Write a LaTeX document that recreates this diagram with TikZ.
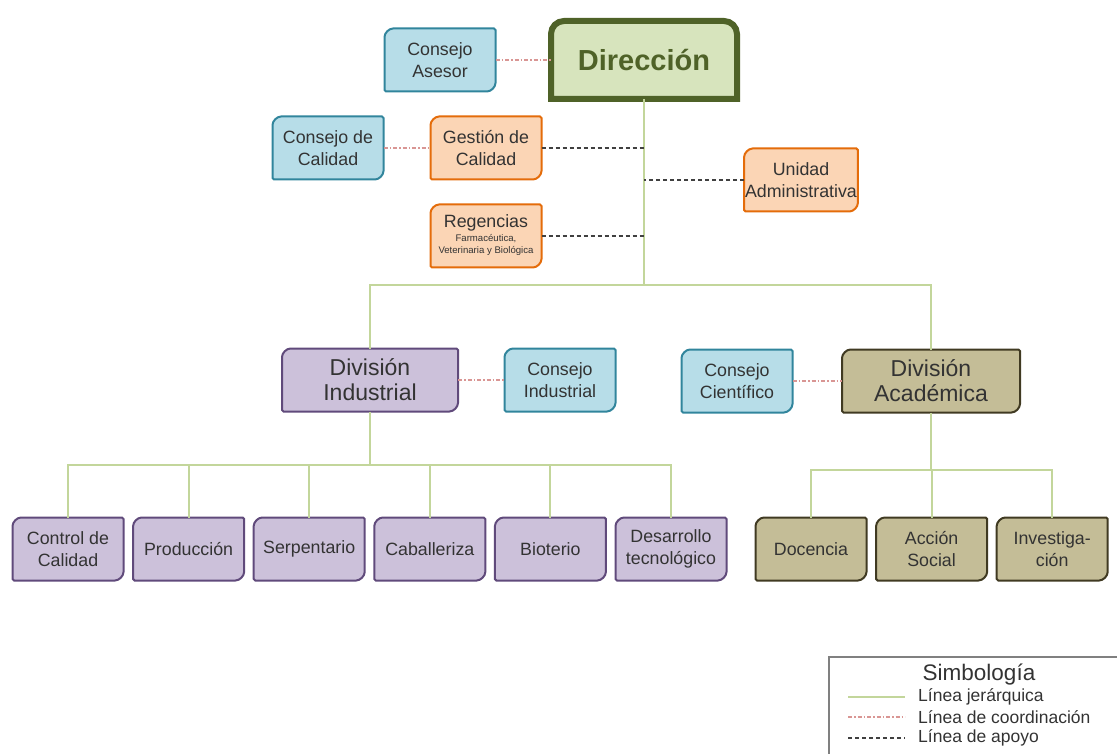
\documentclass[tikz,border=0pt]{standalone}
\usepackage{fontspec}
\setmainfont{Liberation Sans}
\usepackage{tikz}
\usetikzlibrary{positioning,backgrounds}

\definecolor{blueFill}{HTML}{B7DDE8}
\definecolor{blueLine}{HTML}{31859C}
\definecolor{orangeFill}{HTML}{FBD5B5}
\definecolor{orangeLine}{HTML}{E46C0A}
\definecolor{purpleFill}{HTML}{CCC1DA}
\definecolor{purpleLine}{HTML}{604A7B}
\definecolor{tanFill}{HTML}{C4BD97}
\definecolor{tanLine}{HTML}{403A22}
\definecolor{dirFill}{HTML}{D7E4BD}
\definecolor{dirLine}{HTML}{4F6228}
\definecolor{hierLine}{HTML}{C3D69B}
\definecolor{coordLine}{HTML}{D99694}
\definecolor{textGray}{HTML}{333333}

\begin{document}
\begin{tikzpicture}[x = 1pt, y = 1pt, node distance = 120.6pt and 120.6pt, on grid,
                    unit/.style  = {rectangle,
                                    minimum width = 111pt,
                                    minimum height = 63pt,
                                    inner sep = 1pt,
                                    outer sep = 0pt,
                                    align = center,
                                    text = textGray,
                                    font = \fontsize{17.8}{21.5}\selectfont},
                    division/.style = {unit,
                                    minimum width = 176pt,
                                    font = \fontsize{23}{25}\selectfont},
                    cblue/.style   = {draw = blueLine, fill = blueFill, line width = 2pt},
                    corange/.style = {draw = orangeLine, fill = orangeFill, line width = 2pt},
                    cpurple/.style = {draw = purpleLine, fill = purpleFill, line width = 2pt},
                    ctan/.style    = {draw = tanLine, fill = tanFill, line width = 2pt},
                    hier/.style    = {draw = hierLine, line width = 2pt},
                    coord/.style   = {draw = coordLine, line width = 1.3pt,
                                      dash pattern = on 4pt off 2pt on 1.5pt off 2pt},
                    support/.style = {draw = black!75, line width = 1.5pt,
                                      dash pattern = on 4pt off 3pt},
                    legtext/.style = {anchor = west, inner sep = 0pt, text = textGray,
                                      font = \fontsize{17.5}{20}\selectfont}]

\useasboundingbox (0,0) rectangle (1117,-754);

% top
\node[unit, minimum width = 186pt, minimum height = 78pt,
      font = \fontsize{29}{32}\selectfont\bfseries, text = dirLine] (dir) at (644,-60) {Dirección};
\node[unit] (asesor) at (440,-60) {Consejo\\Asesor};

% staff units
\node[unit] (conscal) at (328,-148) {Consejo de\\Calidad};
\node[unit] (gest) at (486,-148) {Gestión de\\Calidad};
\node[unit] (unid) at (801,-180) {Unidad\\Administrativa};
\node[unit] (reg) at (486,-236) {Regencias\\[-1pt]
      {\fontsize{9.6}{12}\selectfont\begin{tabular}{@{}c@{}}
        Farmacéutica,\\Veterinaria y Biológica\end{tabular}}};

% divisions
\node[division] (ind) at (370,-380) {División\\Industrial};
\node[unit] (consind) at (560,-380) {Consejo\\Industrial};
\node[unit] (cient) at (737,-381) {Consejo\\Científico};
\node[division, minimum width = 178pt] (aca) at (931,-381) {División\\Académica};

% industrial units
\node[unit] (cc) at (68,-549) {Control de\\Calidad};
\node[unit] (prod) [right = of cc] {Producción};
\node[unit] (serp) [right = of prod] {Serpentario};
\node[unit] (cab) [right = of serp] {Caballeriza};
\node[unit] (bio) [right = of cab] {Bioterio};
\node[unit] (des) [right = of bio] {Desarrollo\\tecnológico};

% academic units
\node[unit] (doc) at (811,-549) {Docencia};
\node[unit] (acc) [right = of doc] {Acción\\Social};
\node[unit] (inv) [right = of acc] {Investiga-\\ción};

% box shapes
\begin{scope}[on background layer]
  \draw[draw = dirLine, fill = dirFill, line width = 6pt]
    (dir.south east) -- ([yshift = -13pt]dir.north east)
    arc[start angle = 0, end angle = 90, radius = 13pt]
    -- ([xshift = 13pt]dir.north west)
    arc[start angle = 90, end angle = 180, radius = 13pt]
    -- (dir.south west) -- cycle;
  \foreach \n/\c in {asesor/cblue, conscal/cblue, consind/cblue, cient/cblue,
                     gest/corange, unid/corange, reg/corange,
                     ind/cpurple, cc/cpurple, prod/cpurple, serp/cpurple,
                     cab/cpurple, bio/cpurple, des/cpurple,
                     aca/ctan, doc/ctan, acc/ctan, inv/ctan}
    \draw[\c, rounded corners = 1.5pt] (\n.north east)
      -- ([yshift = 10pt]\n.south east)
      arc[start angle = 0, end angle = -90, radius = 10pt]
      -- (\n.south west) -- ([yshift = -10pt]\n.north west)
      arc[start angle = 180, end angle = 90, radius = 10pt] -- cycle;
\end{scope}

% hierarchy
\coordinate (jtop) at (644,-285);
\coordinate (jind) at (370,-465);
\coordinate (jaca) at (931,-470);

\draw[hier] (dir) -- (jtop);
\draw[hier] (ind.north) |- (jtop);
\draw[hier] (aca.north) |- (jtop);
\draw[hier] (ind) -- (jind);
\foreach \n in {cc, prod, serp, cab, bio, des}
  \draw[hier] (\n.north) |- (jind);
\draw[hier] (aca) -- (jaca);
\foreach \n in {doc, acc, inv}
  \draw[hier] (\n.north) |- (jaca);

% coordination
\draw[coord] (asesor) -- (dir);
\draw[coord] (conscal) -- (gest);
\draw[coord] (ind) -- (consind);
\draw[coord] (cient) -- (aca);

% support
\draw[support] (gest.east) -- (gest.east -| dir.south);
\draw[support] (reg.east) -- (reg.east -| dir.south);
\draw[support] (unid.west) -- (unid.west -| dir.south);

% legend
\draw[draw = black!50, line width = 2pt] (829,-657) rectangle (1130,-770);
\node[font = \fontsize{22.5}{25}\selectfont, text = textGray] (simb) at (979,-675) {Simbología};
\node[legtext] (ljer) at (918,-697) {Línea jerárquica};
\node[legtext] (lcoo) at (918,-717) {Línea de coordinación};
\node[legtext] (lapo) at (918,-738) {Línea de apoyo};
\draw[hier, line width = 1.3pt] ([xshift = -70pt]ljer.west) -- ([xshift = -13pt]ljer.west);
\draw[coord] ([xshift = -70pt]lcoo.west) -- ([xshift = -13pt]lcoo.west);
\draw[support, line width = 1.3pt] ([xshift = -70pt]lapo.west) -- ([xshift = -13pt]lapo.west);

\end{tikzpicture}
\end{document}
